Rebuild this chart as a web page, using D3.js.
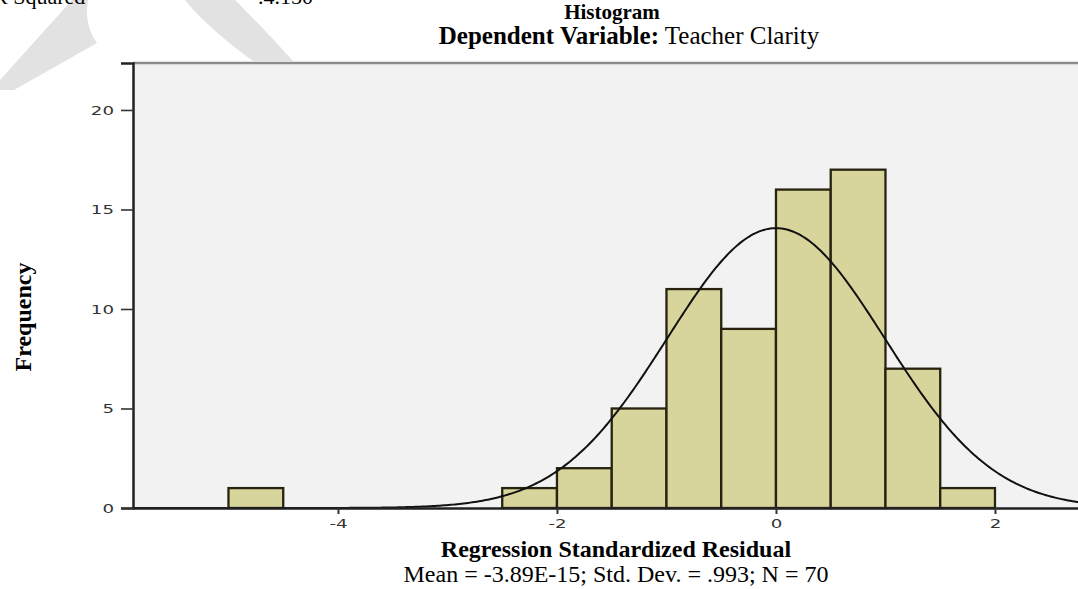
<!DOCTYPE html>
<html>
<head>
<meta charset="utf-8">
<script src="https://cdn.jsdelivr.net/npm/d3@7"></script>
<style>
  body { margin: 0; background: #fff; }
  svg { display: block; }
  .serif { font-family: "Liberation Serif", "Times New Roman", serif; fill: #000; }
  .tick text { font-family: "DejaVu Sans", Arial, sans-serif; fill: #333; }
</style>
</head>
<body>
<div id="chart"></div>
<script>
// residual bins (width .5) and counts
const binStarts = [-5, -2.5, -2, -1.5, -1, -0.5, 0, 0.5, 1, 1.5]
const binCounts = [1, 1, 2, 5, 11, 9, 16, 17, 7, 1]
const binWidth = 0.5
const yTicks = [0, 5, 10, 15, 20]
const xTicks = [-4, -2, 0, 2]
const stats = { mean: -3.89e-15, sd: 0.993, n: 70 }

let width = 1078
let height = 589

let svg = d3.select("#chart")
  .append("svg")
  .attr("width", width)
  .attr("height", height)

// faint watermark shapes behind the page
svg.append("path")
  .attr("fill", "#e2e2e2")
  .attr("d", "M0,80 L72,0 L88,0 C86,12 86,28 97,43 L14,90 L0,90 Z")
svg.append("path")
  .attr("fill", "#e2e2e2")
  .attr("d", "M185,0 L235,0 C250,15 270,35 293,61 L253,61 C235,48 205,25 185,0 Z")

// cut text at the very top
svg.append("text").attr("class", "serif")
  .attr("x", -7).attr("y", 4)
  .style("font-size", "22px")
  .text("R Squared")
svg.append("text").attr("class", "serif")
  .attr("x", 258).attr("y", 4)
  .style("font-size", "22px")
  .text(".4.150")

// white chart panel covering the watermark
svg.append("rect")
  .attr("x", 82).attr("y", 61)
  .attr("width", width).attr("height", 480)
  .attr("fill", "#fff")

let x = d3.scaleLinear().domain([-5.872, 2.95]).range([133, 1099])
let y = d3.scaleLinear().domain([0, 22.36]).range([508, 63])

// plot background
svg.append("rect")
  .attr("x", x(-5.872)).attr("y", y(22.36))
  .attr("width", x(2.95) - x(-5.872))
  .attr("height", y(0) - y(22.36))
  .attr("fill", "#f2f2f2")

svg.append("line")
  .attr("x1", 133).attr("x2", width)
  .attr("y1", 63).attr("y2", 63)
  .attr("stroke", "#8c8c8c")
  .attr("stroke-width", 2.5)

// bars
svg.append("g")
  .selectAll("rect")
  .data(binStarts)
  .enter().append("rect")
  .attr("x", d => x(d))
  .attr("y", (d, i) => y(binCounts[i]))
  .attr("width", d => x(d + binWidth) - x(d))
  .attr("height", (d, i) => y(0) - y(binCounts[i]))
  .attr("fill", "#d8d59c")
  .attr("stroke", "#27230f")
  .attr("stroke-width", 2.3)

// fitted normal curve
let curveX = d3.range(-5.872, 2.96, 0.02)
let normal = v => stats.n * binWidth * Math.exp(-0.5 * Math.pow((v - stats.mean) / stats.sd, 2)) / (stats.sd * Math.sqrt(2 * Math.PI))
svg.append("path")
  .datum(curveX)
  .attr("fill", "none")
  .attr("stroke", "#111")
  .attr("stroke-width", 2)
  .attr("d", d3.line().x(d => x(d)).y(d => y(normal(d))))

// axes
let sx = 1.4
let yAxis = svg.append("g")
  .attr("transform", "translate(133,0)")
  .call(d3.axisLeft(y).tickValues(yTicks).tickSize(12).tickPadding(5).tickFormat(d => String(d)))
yAxis.select(".domain").attr("stroke", "#222").attr("stroke-width", 2.5)
yAxis.selectAll(".tick line").attr("stroke", "#333").attr("stroke-width", 1.6)
yAxis.selectAll(".tick text")
  .style("font-size", "13px")
  .attr("transform", "scale(" + sx + ",1)")
  .attr("x", -19 / sx)

let xAxis = svg.append("g")
  .attr("transform", "translate(0,508)")
  .call(d3.axisBottom(x).tickValues(xTicks).tickSize(6).tickPadding(5).tickSizeOuter(0).tickFormat(d => String(d)))
xAxis.select(".domain").attr("stroke", "#222").attr("stroke-width", 2.5)
xAxis.selectAll(".tick line").attr("stroke", "#333").attr("stroke-width", 2)
xAxis.selectAll(".tick text")
  .style("font-size", "13px")
  .attr("transform", "scale(" + sx + ",1)")

// titles
svg.append("text").attr("class", "serif")
  .attr("x", 612).attr("y", 19)
  .attr("text-anchor", "middle")
  .style("font-size", "21px").style("font-weight", "bold")
  .text("Histogram")

let sub = svg.append("text").attr("class", "serif")
  .attr("x", 629).attr("y", 44)
  .attr("text-anchor", "middle")
  .style("font-size", "25px")
sub.append("tspan").style("font-weight", "bold").text("Dependent Variable:")
sub.append("tspan").text(" Teacher Clarity")

svg.append("text").attr("class", "serif")
  .attr("transform", "translate(31,317) rotate(-90)")
  .attr("text-anchor", "middle")
  .style("font-size", "24px").style("font-weight", "bold")
  .text("Frequency")

svg.append("text").attr("class", "serif")
  .attr("x", 616).attr("y", 557)
  .attr("text-anchor", "middle")
  .style("font-size", "24px").style("font-weight", "bold")
  .text("Regression Standardized Residual")

svg.append("text").attr("class", "serif")
  .attr("x", 616).attr("y", 582)
  .attr("text-anchor", "middle")
  .style("font-size", "24px")
  .text("Mean = -3.89E-15; Std. Dev. = .993; N = 70")
</script>
</body>
</html>
